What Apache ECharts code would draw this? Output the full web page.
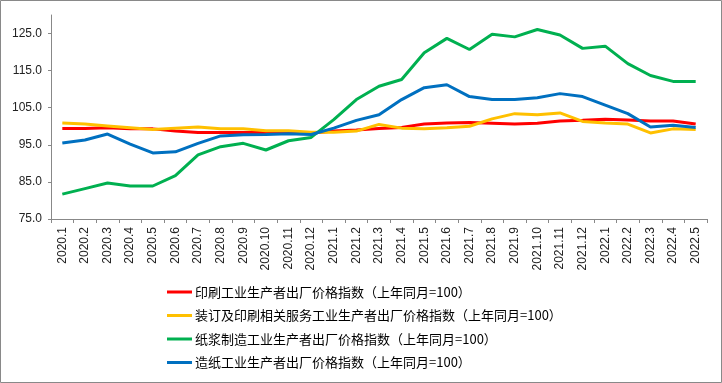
<!DOCTYPE html>
<html><head><meta charset="utf-8">
<script src="https://cdn.jsdelivr.net/npm/echarts@6/dist/echarts.min.js"></script>
<style>html,body{margin:0;padding:0;background:#fff}#c{width:722px;height:383px}</style>
</head><body><div id="c"></div>
<script>
const categories = ['2020.1','2020.2','2020.3','2020.4','2020.5','2020.6','2020.7','2020.8','2020.9','2020.10','2020.11','2020.12',
'2021.1','2021.2','2021.3','2021.4','2021.5','2021.6','2021.7','2021.8','2021.9','2021.10','2021.11','2021.12',
'2022.1','2022.2','2022.3','2022.4','2022.5'];
const seriesNames = ['印刷工业生产者出厂价格指数（上年同月=100）','装订及印刷相关服务工业生产者出厂价格指数（上年同月=100）','纸浆制造工业生产者出厂价格指数（上年同月=100）','造纸工业生产者出厂价格指数（上年同月=100）'];
const printing = [99.4,99.4,99.6,99.3,99.3,98.7,98.3,98.3,98.3,98.3,98.2,98.1,98.7,99.0,99.4,99.7,100.6,100.9,101.0,100.8,100.6,100.8,101.4,101.6,101.9,101.7,101.4,101.4,100.6];
const binding = [100.9,100.6,100.1,99.6,99.1,99.5,99.8,99.3,99.3,98.8,98.8,98.4,98.4,98.7,100.5,99.5,99.3,99.6,100.0,102.0,103.4,103.1,103.6,101.3,100.9,100.6,98.2,99.3,99.1];
const pulp = [81.7,83.2,84.7,83.9,83.9,86.7,92.3,94.5,95.4,93.6,96.1,97.0,101.8,107.2,110.8,112.6,119.8,123.7,120.7,124.8,124.1,126.1,124.6,121.0,121.6,116.9,113.7,112.1,112.1];
const paper = [95.5,96.3,97.9,95.2,92.8,93.1,95.4,97.4,97.7,97.8,98.0,97.8,99.5,101.6,103.1,107.2,110.4,111.2,108.0,107.2,107.2,107.7,108.8,108.0,105.7,103.4,99.8,100.3,99.7];
const colors = ['#FF0000','#FFC000','#00B050','#0070C0'];
const values = [printing, binding, pulp, paper];

const chart = echarts.init(document.getElementById('c'));
chart.setOption({
  animation: false,
  color: colors,
  graphic: [{type:'rect', shape:{x:0.5,y:0.5,width:721,height:382}, style:{fill:'none', stroke:'#898989', lineWidth:1}, silent:true}],
  grid: {left:51, right:15, top:15, bottom:164},
  legend: {
    orient:'vertical', left:162, top:279, icon:'rect', itemWidth:25, itemHeight:3, itemGap:7.5,
    textStyle:{fontFamily:'Noto Sans CJK SC', fontSize:13, color:'#000', lineHeight:16, padding:[0,0,0,-2]},
    data: seriesNames
  },
  xAxis: {
    type:'category', data:categories, boundaryGap:true,
    axisLine:{lineStyle:{color:'#888'}},
    axisTick:{show:true, length:4, lineStyle:{color:'#888'}},
    axisLabel:{rotate:90, interval:0, fontSize:12, color:'#222', fontFamily:'Liberation Sans', margin:8}
  },
  yAxis: {
    type:'value', min:75, max:130, interval:10,
    splitLine:{show:false},
    axisLine:{show:true, lineStyle:{color:'#888'}},
    axisTick:{show:true, length:3, lineStyle:{color:'#888'}},
    axisLabel:{showMaxLabel:false, fontSize:12, color:'#222', fontFamily:'Liberation Sans', margin:9, formatter:v=>v.toFixed(1)}
  },
  series: values.map((d,i)=>({
    name: seriesNames[i], type:'line', data:d, symbol:'none', smooth:false,
    lineStyle:{width:3, color:colors[i]}
  }))
});
</script></body></html>
